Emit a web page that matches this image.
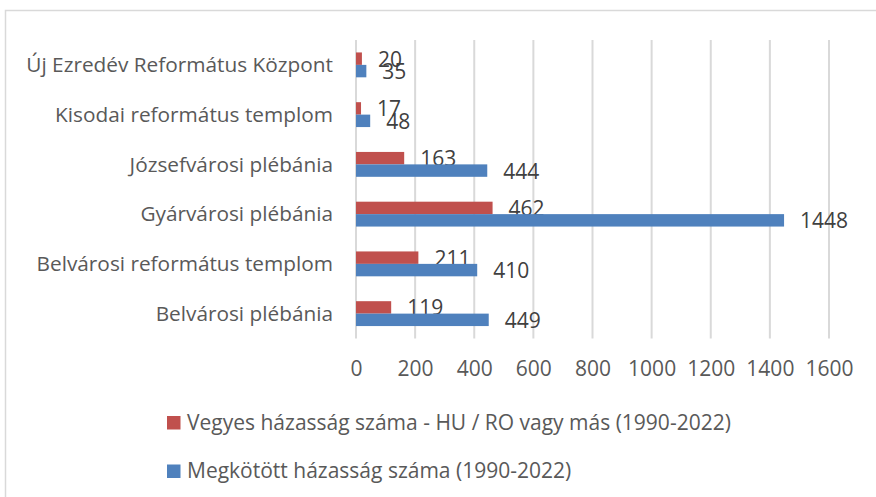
<!DOCTYPE html>
<html>
    <head>
        <meta charset="utf-8" />
        <title>Házasságok</title>
        <style type="text/css">
            body {
                margin: 0;
                background-color: #fff;
            }
            svg {
                display: block;
                font-family: "Open Sans", sans-serif;
            }
            .grid line {
                stroke: #d9d9d9;
                stroke-width: 2px;
            }
            .axis path {
                display: none;
            }
            .axis text {
                fill: #595959;
                font-size: 21px;
            }
            .catlabel {
                fill: #595959;
                font-size: 20.8px;
            }
            .vallabel {
                fill: #404040;
                font-size: 21px;
            }
            .legend text {
                fill: #595959;
                font-size: 21px;
            }
        </style>
        <script src="https://d3js.org/d3.v7.min.js"></script>
    </head>
    <body>
        <div id="chart"></div>
        <script type="text/javascript">
            var categories = [
                "Új Ezredév Református Központ",
                "Kisodai református templom",
                "Józsefvárosi plébánia",
                "Gyárvárosi plébánia",
                "Belvárosi református templom",
                "Belvárosi plébánia"
            ];
            var mixedValues = [20, 17, 163, 462, 211, 119];
            var totalValues = [35, 48, 444, 1448, 410, 449];
            var seriesNames = [
                "Vegyes házasság száma - HU / RO vagy más (1990-2022)",
                "Megkötött házasság száma (1990-2022)"
            ];
            var tickValues = [0, 200, 400, 600, 800, 1000, 1200, 1400, 1600];

            var width = 876,
                height = 497;
            var plotLeft = 356,
                plotRight = 829,
                plotTop = 40,
                plotBottom = 338.5;
            var colors = ["#C0504D", "#4F81BD"];

            var svg = d3
                .select("#chart")
                .append("svg")
                .attr("width", width)
                .attr("height", height);

            // outer frame (cut off at right / bottom like in the source)
            svg.append("rect")
                .attr("x", 5.5)
                .attr("y", 10.5)
                .attr("width", 900)
                .attr("height", 520)
                .attr("fill", "none")
                .attr("stroke", "#d9d9d9")
                .attr("stroke-width", 1.5);

            var xScale = d3
                .scaleLinear()
                .domain([0, 1600])
                .range([plotLeft, plotRight]);

            var yScale = d3
                .scaleBand()
                .domain(categories)
                .range([plotTop, plotBottom])
                .paddingInner(0.5)
                .paddingOuter(0.25);

            var subScale = d3
                .scaleBand()
                .domain([0, 1])
                .range([0, yScale.bandwidth()]);

            svg.append("g")
                .attr("class", "grid")
                .selectAll("line")
                .data(tickValues)
                .enter()
                .append("line")
                .attr("x1", function (d) {
                    return xScale(d);
                })
                .attr("x2", function (d) {
                    return xScale(d);
                })
                .attr("y1", plotTop)
                .attr("y2", plotBottom);

            var xAxis = d3
                .axisBottom(xScale)
                .tickValues(tickValues)
                .tickFormat(d3.format("d"))
                .tickSize(0);
            var xAxisG = svg
                .append("g")
                .attr("class", "axis")
                .attr("transform", "translate(0," + plotBottom + ")")
                .call(xAxis);
            xAxisG.selectAll("text")
                .attr("y", 30)
                .attr("dy", "0.35em")
                .style("font-family", "Open Sans");

            // category labels
            svg.selectAll(".catlabel")
                .data(categories)
                .enter()
                .append("text")
                .attr("class", "catlabel")
                .attr("x", plotLeft - 23)
                .attr("y", function (d) {
                    return yScale(d) + yScale.bandwidth() / 2;
                })
                .attr("dy", "0.35em")
                .attr("text-anchor", "end")
                .text(function (d) {
                    return d;
                });

            var series = [mixedValues, totalValues];
            series.forEach(function (vals, s) {
                var rows = categories.map(function (c, i) {
                    return { cat: c, value: vals[i] };
                });

                svg.selectAll(".bar" + s)
                    .data(rows)
                    .enter()
                    .append("rect")
                    .attr("class", "bar" + s)
                    .attr("x", xScale(0))
                    .attr("y", function (d) {
                        return yScale(d.cat) + subScale(s);
                    })
                    .attr("width", function (d) {
                        return xScale(d.value) - xScale(0);
                    })
                    .attr("height", subScale.bandwidth())
                    .attr("fill", colors[s]);

                // labels overlap on the small bars, as in the source
                svg.selectAll(".val" + s)
                    .data(rows)
                    .enter()
                    .append("text")
                    .attr("class", "vallabel val" + s)
                    .attr("x", function (d) {
                        return xScale(d.value) + 16;
                    })
                    .attr("y", function (d) {
                        return (
                            yScale(d.cat) +
                            subScale(s) +
                            subScale.bandwidth() / 2
                        );
                    })
                    .attr("dy", "0.38em")
                    .text(function (d) {
                        return d.value;
                    });
            });

            // legend
            var legend = svg
                .append("g")
                .attr("class", "legend")
                .selectAll("g")
                .data(seriesNames)
                .enter()
                .append("g")
                .attr("transform", function (d, i) {
                    return "translate(167," + (422.5 + i * 48.5) + ")";
                });

            legend
                .append("rect")
                .attr("x", 0)
                .attr("y", -6.5)
                .attr("width", 13.5)
                .attr("height", 13.5)
                .attr("fill", function (d, i) {
                    return colors[i];
                });

            legend
                .append("text")
                .attr("x", 20)
                .attr("y", 0)
                .attr("dy", "0.35em")
                .text(function (d) {
                    return d;
                });
        </script>
    </body>
</html>
